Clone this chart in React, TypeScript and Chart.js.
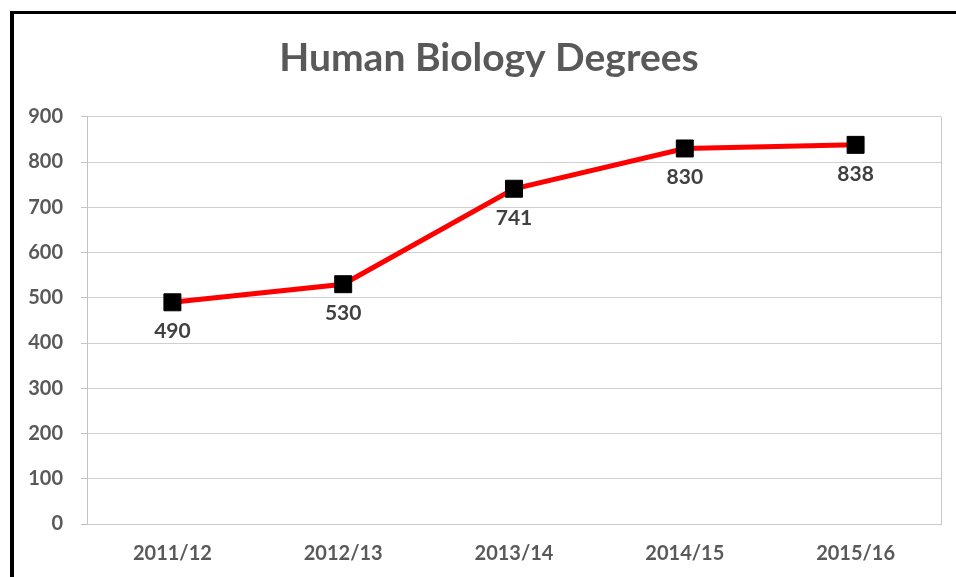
import React, { useEffect, useRef } from "react";
import { Chart, registerables } from "chart.js";

Chart.register(...registerables);

const categories = ["2011/12", "2012/13", "2013/14", "2014/15", "2015/16"];
const degrees = [490, 530, 741, 830, 838];
const titleText = "Human Biology Degrees";
const yMax = 900;
const yStep = 50;

const FONT = "Lato, 'Open Sans', sans-serif";
const TITLE_FONT = `bold 39px ${FONT}`;

const framePlugin = {
  id: "frame",
  afterDraw(chart: any) {
    const { ctx, chartArea } = chart;
    ctx.save();
    ctx.strokeStyle = "#c8c8c8";
    ctx.lineWidth = 1;
    ctx.beginPath();
    ctx.moveTo(Math.round(chartArea.right) + 0.5, chartArea.top);
    ctx.lineTo(Math.round(chartArea.right) + 0.5, chartArea.bottom);
    ctx.stroke();
    ctx.fillStyle = "#000";
    ctx.fillRect(10, 11, 4, chart.height - 11);
    ctx.fillRect(10, 11, chart.width - 10, 3);
    // title, centred over the title block (shifted to match the frame's centre)
    const tb = chart.titleBlock;
    if (tb) {
      ctx.font = TITLE_FONT;
      ctx.fillStyle = "#595959";
      ctx.textAlign = "center";
      ctx.textBaseline = "middle";
      const cx = (tb.left + tb.right) / 2 + 6.5;
      const cy = tb.top + 20 + (39 * 1.2) / 2;
      ctx.fillText(titleText, cx, cy);
    }
    ctx.restore();
  },
};

const labelPlugin = {
  id: "pointLabels",
  afterDatasetsDraw(chart: any) {
    const { ctx } = chart;
    const meta = chart.getDatasetMeta(0);
    const data = chart.data.datasets[0].data;
    ctx.save();
    ctx.font = `bold 21px ${FONT}`;
    ctx.fillStyle = "#404040";
    ctx.textAlign = "center";
    ctx.textBaseline = "middle";
    meta.data.forEach((pt: any, i: number) => {
      ctx.fillText(String(data[i]), pt.x, pt.y + 29);
    });
    ctx.restore();
  },
};

export default function App() {
  const ref = useRef<HTMLCanvasElement>(null);
  useEffect(() => {
    document.body.style.margin = "0";
    const chart = new Chart(ref.current!, {
      type: "line",
      data: {
        labels: categories,
        datasets: [
          {
            data: degrees,
            borderColor: "#ff0000",
            borderWidth: 5,
            pointStyle: "rect",
            pointRadius: 12,
            pointBackgroundColor: "#000",
            pointBorderColor: "#000",
            pointBorderWidth: 1,
            tension: 0,
          },
        ],
      },
      options: {
        responsive: false,
        animation: false,
        layout: { padding: { left: 24, right: 15, top: 15, bottom: 0 } },
        plugins: {
          legend: { display: false },
          tooltip: { enabled: false },
          title: {
            display: true,
            text: titleText,
            color: "rgba(0,0,0,0)",
            font: { family: FONT, size: 39, weight: "bold" },
            padding: { top: 20, bottom: 35 },
          },
        },
        scales: {
          x: {
            offset: true,
            grid: { display: false, drawTicks: false },
            border: { display: true, color: "#c8c8c8", width: 1 },
            afterFit(scale: any) {
              scale.height = 53;
            },
            ticks: {
              color: "#595959",
              font: { family: FONT, size: 20, weight: "bold" },
              padding: 18,
              maxRotation: 0,
            },
          },
          y: {
            min: 0,
            max: yMax,
            afterFit(scale: any) {
              scale.width = 63;
            },
            grid: {
              color: (c: any) => (c.tick && c.tick.value % 100 === 0 ? "#d0d0d0" : "#ececec"),
              tickColor: "#c4c4c4",
              tickLength: 6,
              lineWidth: 1,
            },
            border: { display: true, color: "#c4c4c4", width: 1 },
            ticks: {
              stepSize: yStep,
              color: "#595959",
              font: { family: FONT, size: 20, weight: "bold" },
              padding: 18,
              callback: (v: any) => (Number(v) % 100 === 0 ? String(v) : ""),
            },
          },
        },
      },
      plugins: [framePlugin, labelPlugin],
    });
    return () => chart.destroy();
  }, []);
  return (
    <div style={{ width: 956, height: 577, background: "#fff" }}>
      <canvas ref={ref} width={956} height={577} style={{ display: "block" }} />
    </div>
  );
}
